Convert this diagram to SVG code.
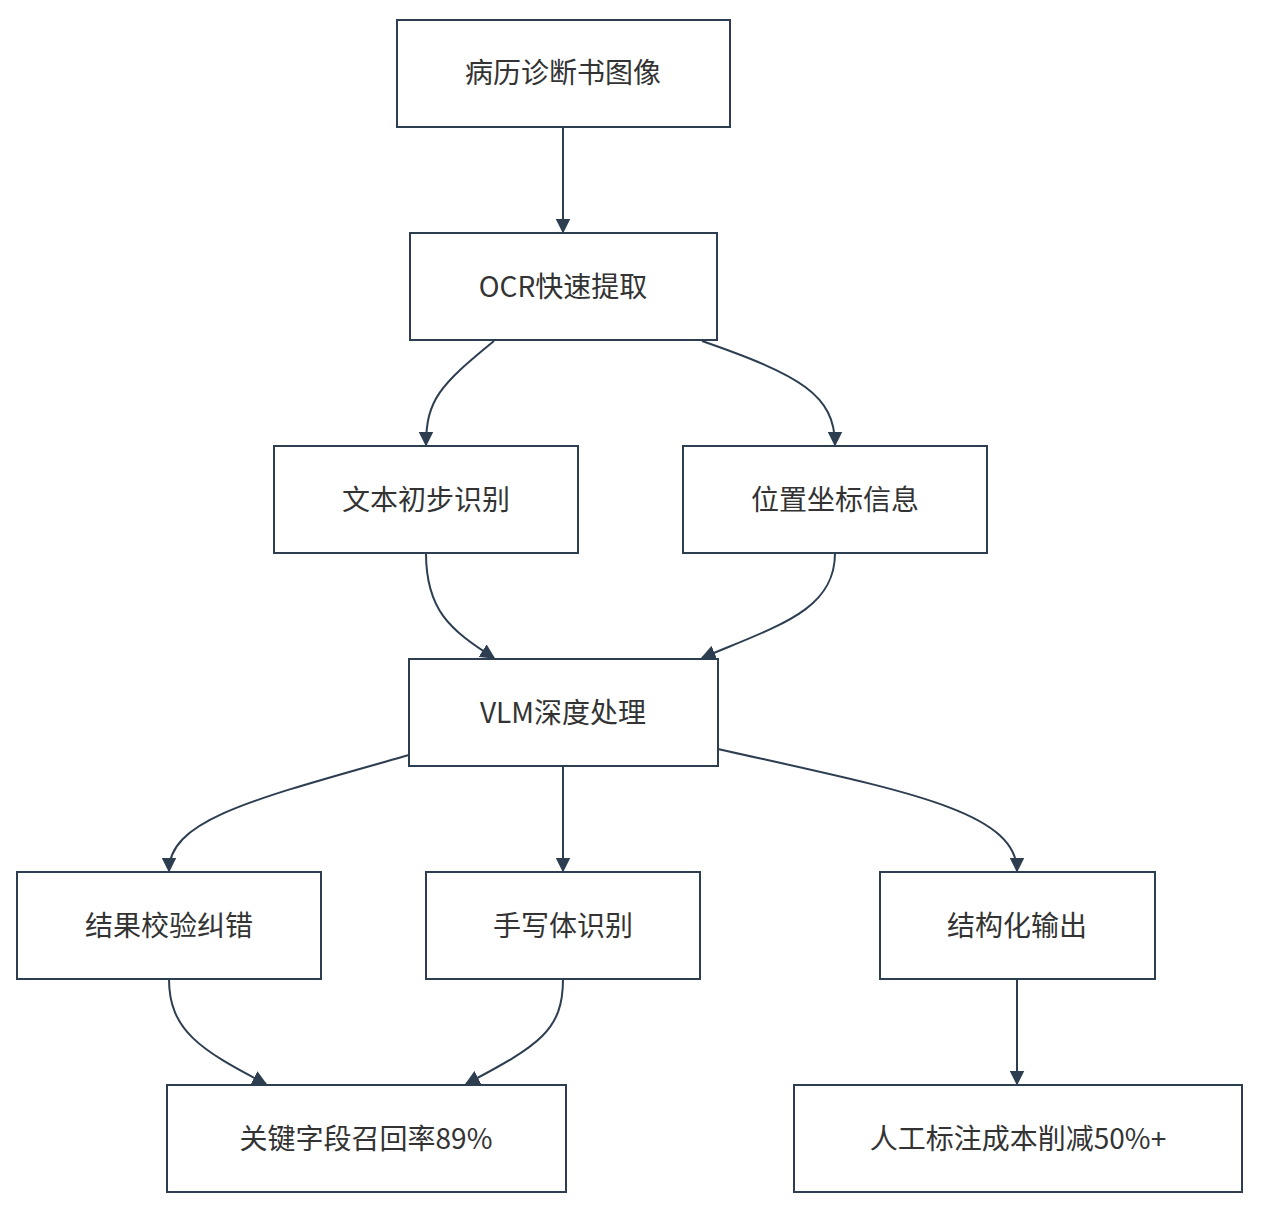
<svg xmlns="http://www.w3.org/2000/svg" width="1265" height="1224" viewBox="0 0 1265 1224">
<style>
.n rect{fill:#fff;stroke:#2d3e50;stroke-width:2}
.n text{font-family:"Noto Sans CJK SC","Liberation Sans",sans-serif;font-size:28px;fill:#333;text-anchor:middle;dominant-baseline:central}
.e path{fill:none;stroke:#2d3e50;stroke-width:2;marker-end:url(#a)}
</style>
<defs><marker id="a" viewBox="0 0 10 10" refX="9" refY="5" markerWidth="15" markerHeight="15" markerUnits="userSpaceOnUse" orient="auto"><path d="M0,0L10,5L0,10z" fill="#2d3e50"/></marker></defs>
<rect width="1265" height="1224" fill="#fff"/>
<g class="e">
<path d="M563,127L563,232"/>
<path d="M494,341C440,385 426,400 426,445"/>
<path d="M702,341C800,375 835,395 835,445"/>
<path d="M426,553C426,610 450,630 494,658"/>
<path d="M835,553C835,610 780,625 702,658"/>
<path d="M409,755C250,800 169,820 169,871"/>
<path d="M563,766L563,871"/>
<path d="M718,749C900,790 1017,810 1017,871"/>
<path d="M169,979C169,1030 200,1050 266,1084"/>
<path d="M563,979C563,1030 540,1045 466,1084"/>
<path d="M1017,979L1017,1084"/>
</g>
<g id="n1" class="n"><rect x="397" y="20" width="333" height="107"/><text x="563" y="71">病历诊断书图像</text></g>
<g id="n2" class="n"><rect x="410" y="233" width="307" height="107"/><text x="563" y="285">OCR快速提取</text></g>
<g id="n3" class="n"><rect x="274" y="446" width="304" height="107"/><text x="426" y="498">文本初步识别</text></g>
<g id="n4" class="n"><rect x="683" y="446" width="304" height="107"/><text x="835" y="498">位置坐标信息</text></g>
<g id="n5" class="n"><rect x="409" y="659" width="309" height="107"/><text x="563" y="711">VLM深度处理</text></g>
<g id="n6" class="n"><rect x="17" y="872" width="304" height="107"/><text x="169" y="924">结果校验纠错</text></g>
<g id="n7" class="n"><rect x="426" y="872" width="274" height="107"/><text x="563" y="924">手写体识别</text></g>
<g id="n8" class="n"><rect x="880" y="872" width="275" height="107"/><text x="1017" y="924">结构化输出</text></g>
<g id="n9" class="n"><rect x="167" y="1085" width="399" height="107"/><text x="366" y="1137">关键字段召回率89%</text></g>
<g id="n10" class="n"><rect x="794" y="1085" width="448" height="107"/><text x="1018" y="1137">人工标注成本削减50%+</text></g>
</svg>
